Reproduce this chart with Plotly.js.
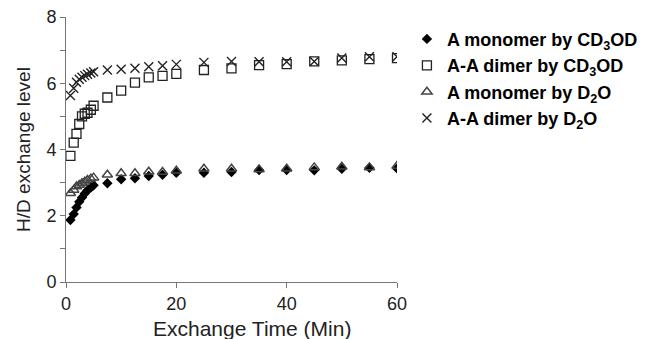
<!DOCTYPE html>
<html>
<head>
<meta charset="utf-8">
<script src="https://cdn.plot.ly/plotly-3.0.1.min.js"></script>
<style>html,body{margin:0;padding:0;background:#fff;}#chart{width:650px;height:339px;}</style>
</head>
<body>
<div id="chart"></div>
<script>
// Exchange time (min)
const timeMin = [0.8, 1.4, 1.9, 2.4, 2.9, 3.4, 3.9, 4.5, 5, 7.5, 10, 12.5, 15, 17.5, 20, 25, 30, 35, 40, 45, 50, 55, 60];

// H/D exchange levels
const monomerCD3OD = [1.87, 2.05, 2.25, 2.42, 2.55, 2.67, 2.77, 2.85, 2.92, 2.98, 3.10, 3.13, 3.20, 3.24, 3.30, 3.30, 3.32, 3.38, 3.38, 3.37, 3.42, 3.45, 3.43];
const dimerCD3OD   = [3.81, 4.21, 4.47, 4.77, 5.00, 5.08, 5.11, 5.20, 5.32, 5.57, 5.78, 6.02, 6.18, 6.22, 6.28, 6.40, 6.45, 6.55, 6.58, 6.66, 6.69, 6.73, 6.76];
const monomerD2O   = [2.68, 2.78, 2.88, 2.93, 2.98, 3.03, 3.08, 3.12, 3.15, 3.24, 3.28, 3.28, 3.33, 3.32, 3.36, 3.42, 3.42, 3.40, 3.42, 3.46, 3.48, 3.46, 3.50];
const dimerD2O     = [5.63, 5.85, 6.03, 6.12, 6.18, 6.23, 6.27, 6.31, 6.35, 6.40, 6.42, 6.45, 6.50, 6.53, 6.57, 6.63, 6.66, 6.65, 6.65, 6.66, 6.76, 6.80, 6.80];

const seriesNames = [
  'A monomer by CD<sub>3</sub>OD',
  'A-A dimer by CD<sub>3</sub>OD',
  'A monomer by D<sub>2</sub>O',
  'A-A dimer by D<sub>2</sub>O'
];
const yTickVals = [0, 2, 4, 6, 8];
const xTickVals = [0, 20, 40, 60];
const xTitle = 'Exchange Time (Min)';
const yTitle = 'H/D exchange level';

const traces = [
  {x: timeMin, y: monomerCD3OD, name: seriesNames[0], mode: 'markers', type: 'scatter',
   marker: {symbol: 'diamond', size: 8, color: '#000'}},
  {x: timeMin, y: dimerCD3OD, name: seriesNames[1], mode: 'markers', type: 'scatter',
   marker: {symbol: 'square-open', size: 9, color: '#222', line: {width: 1.3}}},
  {x: timeMin, y: monomerD2O, name: seriesNames[2], mode: 'markers', type: 'scatter',
   marker: {symbol: 'triangle-up-open', size: 9, color: '#444', line: {width: 1.5}}},
  {x: timeMin, y: dimerD2O, name: seriesNames[3], mode: 'markers', type: 'scatter',
   marker: {symbol: 'x-thin-open', size: 9, color: '#222', line: {width: 1.4}}}
];

const layout = {
  width: 650, height: 339,
  margin: {l: 66, r: 253, t: 17, b: 57, autoexpand: false},
  paper_bgcolor: '#fff', plot_bgcolor: '#fff',
  font: {family: '"Liberation Sans", Arial, sans-serif', color: '#222'},
  showlegend: true,
  legend: {
    x: 1.03, xanchor: 'left', y: 0.986, yanchor: 'top',
    font: {size: 18, family: '"Liberation Sans", Arial, sans-serif', color: '#000', weight: 'bold'},
    bgcolor: 'rgba(0,0,0,0)', itemwidth: 30, tracegroupgap: 0
  },
  xaxis: {
    range: [0, 60], tickvals: xTickVals, ticks: 'outside', ticklen: 5, tickcolor: '#777',
    showline: true, linecolor: '#777', linewidth: 1, showgrid: false, zeroline: false,
    automargin: false, tickfont: {size: 18, color: '#222'}
  },
  yaxis: {
    range: [0, 8], tickvals: yTickVals, ticks: 'outside', ticklen: 5, tickcolor: '#777',
    minor: {dtick: 1, ticks: 'outside', ticklen: 5, tickcolor: '#777', showgrid: false},
    showline: true, linecolor: '#777', linewidth: 1, showgrid: false, zeroline: false,
    automargin: false, tickfont: {size: 18, color: '#222'},
    title: {text: yTitle, font: {size: 19, color: '#222'}, standoff: 10}
  },
  annotations: [{
    text: xTitle, xref: 'paper', yref: 'paper', x: 0.562, y: -0.174,
    xanchor: 'center', yanchor: 'middle', showarrow: false,
    font: {size: 21, color: '#222'}
  }]
};

Plotly.newPlot('chart', traces, layout, {displayModeBar: false, staticPlot: true});
</script>
</body>
</html>
